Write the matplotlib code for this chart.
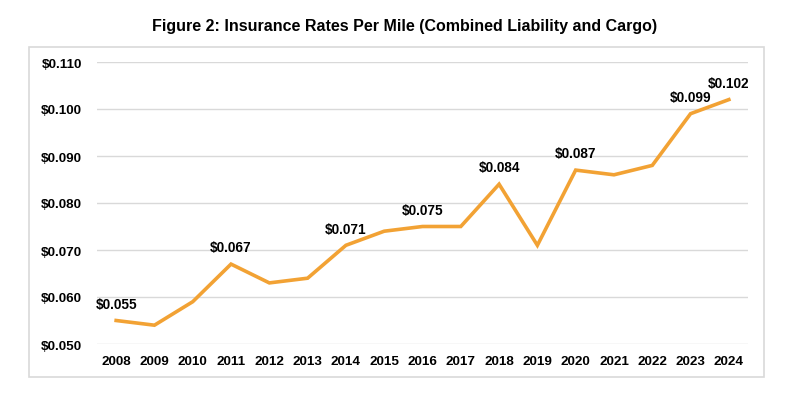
import matplotlib
matplotlib.use("Agg")
import matplotlib.pyplot as plt
from matplotlib.patches import Rectangle

years = [str(y) for y in range(2008, 2025)]
rates = [0.055, 0.054, 0.059, 0.067, 0.063, 0.064, 0.071, 0.074, 0.075, 0.075,
         0.084, 0.071, 0.087, 0.086, 0.088, 0.099, 0.102]
labeled = ["2008", "2011", "2014", "2016", "2018", "2020", "2023", "2024"]
yticks = [0.050, 0.060, 0.070, 0.080, 0.090, 0.100, 0.110]

plt.rcParams['font.family'] = ['Liberation Sans', 'DejaVu Sans']
W, H = 809, 406
fig = plt.figure(figsize=(W/100, H/100), dpi=100)
fig.patch.set_facecolor('white')

# outer chart border
fig.patches.append(Rectangle((29/W, 1 - 378/H), (764-29)/W, (378-48)/H,
                             transform=fig.transFigure, fill=False,
                             edgecolor='#d9d9d9', linewidth=1.2))

ax = fig.add_axes([97/W, 1 - 345/H, (748-97)/W, (345-63)/H])
x = list(range(len(years)))
ax.plot(x, rates, color='#F2A234', linewidth=2.6, solid_joinstyle='miter')
ax.set_xlim(-0.5, len(years) - 0.5)
ax.set_ylim(0.050, 0.110)
ax.set_yticks(yticks)
ax.set_yticklabels([f"${v:.3f}" for v in yticks])
ax.set_xticks(x)
ax.set_xticklabels(years)
ax.grid(axis='y', color='#d9d9d9', linewidth=1)
ax.set_axisbelow(True)
for s in ax.spines.values():
    s.set_visible(False)
ax.tick_params(length=0, labelsize=9.7, pad=8)
for lab in ax.get_xticklabels() + ax.get_yticklabels():
    lab.set_fontweight('bold')
ax.tick_params(axis='y', pad=11)

for i, (yr, v) in enumerate(zip(years, rates)):
    if yr in labeled:
        ax.annotate(f"${v:.3f}", (i, v), xytext=(0, 7), textcoords='offset points',
                    ha='center', va='bottom', fontsize=9.8, fontweight='bold')

fig.text(0.5, 1 - 27/H, "Figure 2: Insurance Rates Per Mile (Combined Liability and Cargo)",
         ha='center', va='center', fontsize=11.5, fontweight='bold')

fig.savefig("out.png", dpi=100)
